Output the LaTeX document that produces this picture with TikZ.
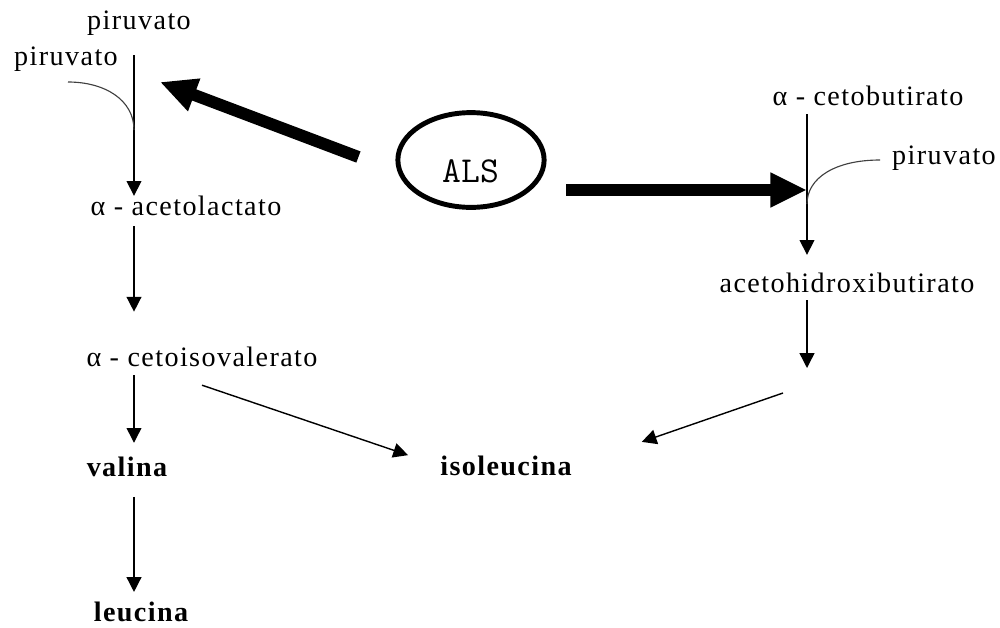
\documentclass[tikz,border=0pt]{standalone}
\usepackage{fontspec}
\setmainfont{Liberation Serif}[LetterSpace=5]
\usetikzlibrary{arrows.meta,shapes.geometric}

\begin{document}
\begin{tikzpicture}[x=0.025cm,y=-0.025cm,
  metabolite/.style={inner sep=0pt,font=\fontsize{20pt}{24pt}\selectfont},
  amino acid/.style={metabolite,font=\fontsize{20pt}{24pt}\selectfont\bfseries},
  reaction/.style={line width=1pt,-{Triangle[length=10.5pt,width=10.5pt]}},
  side path/.style={line width=0.8pt,black!75},
  als arrow/.style={line width=8.5pt,-{Triangle[length=26pt,width=23pt]}}]

  \useasboundingbox (0,0) rectangle (1000,627);

  % valina / leucina
  \node [metabolite] (pir1) at (139,23) {piruvato};
  \node [metabolite] (pir2) at (66,59) {piruvato};
  \node [metabolite] (acl) at (186,206) {α - acetolactato};
  \node [metabolite] (cis) at (202,357) {α - cetoisovalerato};
  \node [amino acid] (val) at (127,467) {valina};
  \node [amino acid] (leu) at (141,612) {leucina};
  \coordinate (pin1) at (68,82);
  \coordinate (join1) at (134,130);
  \coordinate (site1) at (160,82);

  % isoleucina
  \node [metabolite] (cbt) at (868,96) {α - cetobutirato};
  \node [metabolite] (pir3) at (944,158) {piruvato};
  \node [metabolite] (ahb) at (847,283) {acetohidroxibutirato};
  \node [amino acid] (iso) at (506,466) {isoleucina};
  \coordinate (pin2) at (880,160);
  \coordinate (site2) at (807,190);
  \coordinate (join2) at (807,204);
  \coordinate (ahbend) at (807,368);
  \coordinate (isotail) at (783,393);

  % ALS
  \node [ellipse,draw,line width=3.5pt,minimum width=104pt,minimum height=67.4pt] (als) at (471,160) {};
  \node [inner sep=0pt,font=\ttfamily\fontsize{26pt}{30pt}\selectfont] (alstext) at (471,171) {ALS};

  \draw [reaction,shorten <=14pt] (pir1.south -| join1) -- (acl.north -| join1);
  \draw [side path] (pin1) .. controls (105,82) and (134,100) .. (join1);
  \draw [reaction,shorten <=7pt,shorten >=25pt] (acl.south -| join1) -- (cis.north -| join1);
  \draw [reaction,shorten <=5.7pt,shorten >=10pt] (cis.south -| join1) -- (val.north -| join1);
  \draw [reaction,shorten <=14pt,shorten >=7pt] (val.south -| join1) -- (leu.north -| join1);
  \draw [reaction,shorten >=24pt] ([shift={(0,18)}]cis.south) -- (iso.west);

  \draw [reaction,shorten <=5.7pt,shorten >=12.8pt] (cbt.south -| site2) -- (ahb.north -| site2);
  \draw [side path] (pin2) .. controls (835,160) and (807,178) .. (join2);
  \draw [reaction,shorten <=5pt] (ahb.south -| site2) -- (ahbend);
  \draw [reaction,shorten >=52.5pt] (isotail) -- (iso.east);

  \draw [als arrow] ([shift={(-37,-3)}]als.west) -- (site1);
  \draw [als arrow,shorten <=14pt] (als.east |- site2) -- (site2);

\end{tikzpicture}
\end{document}
